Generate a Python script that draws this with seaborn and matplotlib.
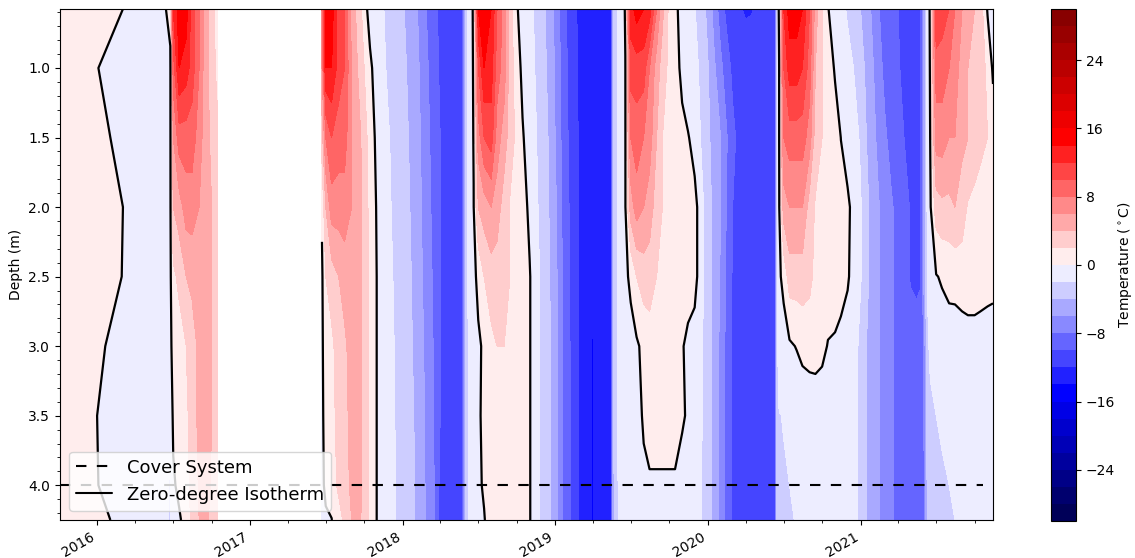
import numpy as np
import pandas as pd
import matplotlib
matplotlib.use("Agg")
import matplotlib.pyplot as plt
import matplotlib.dates as mdates
from matplotlib.lines import Line2D
from matplotlib.ticker import MultipleLocator
import seaborn as sns

# ---------------- data ----------------
depths = [0.576, 1.0, 1.5, 2.0, 2.5, 3.0, 3.5, 4.0, 4.25]

dates = [
    "2015-10-04", "2016-06-01", "2016-06-24", "2016-07-01", "2016-07-15", "2016-08-01",
    "2016-08-15", "2016-09-01", "2016-09-15", "2016-10-01", "2016-10-14", "2017-01-01",
    "2017-06-22", "2017-07-01", "2017-07-15", "2017-08-01", "2017-08-15", "2017-09-01",
    "2017-09-15", "2017-10-01", "2017-10-15", "2017-11-01", "2017-11-15", "2017-12-01",
    "2017-12-15", "2018-01-01", "2018-01-15", "2018-02-01", "2018-02-15", "2018-03-01",
    "2018-03-15", "2018-04-01", "2018-04-15", "2018-05-01", "2018-05-15", "2018-05-25",
    "2018-06-01", "2018-06-10", "2018-06-20", "2018-07-01", "2018-07-15", "2018-08-01",
    "2018-08-15", "2018-09-01", "2018-09-15", "2018-10-01", "2018-10-15", "2018-11-01",
    "2018-11-10", "2018-11-15", "2018-12-01", "2018-12-15", "2019-01-01", "2019-01-15",
    "2019-02-01", "2019-02-15", "2019-03-01", "2019-03-15", "2019-04-01", "2019-04-15",
    "2019-05-01", "2019-05-15", "2019-05-20", "2019-06-01", "2019-06-10", "2019-06-18",
    "2019-07-01", "2019-07-15", "2019-08-01", "2019-08-15", "2019-09-01", "2019-09-15",
    "2019-10-01", "2019-10-15", "2019-11-01", "2019-11-15", "2019-12-01", "2019-12-10",
    "2019-12-15", "2020-01-01", "2020-01-15", "2020-02-01", "2020-02-15", "2020-03-01",
    "2020-03-15", "2020-04-01", "2020-04-15", "2020-05-01", "2020-05-15", "2020-06-01",
    "2020-06-10", "2020-06-15", "2020-06-20", "2020-07-01", "2020-07-15", "2020-08-01",
    "2020-08-15", "2020-09-01", "2020-09-15", "2020-10-01", "2020-10-15", "2020-11-01",
    "2020-11-15", "2020-12-01", "2020-12-15", "2021-01-01", "2021-01-15", "2021-02-01",
    "2021-02-15", "2021-03-01", "2021-03-15", "2021-04-01", "2021-04-15", "2021-05-01",
    "2021-05-15", "2021-05-25", "2021-06-01", "2021-06-10", "2021-06-17", "2021-07-01",
    "2021-07-15", "2021-08-01", "2021-08-15", "2021-09-01", "2021-09-15", "2021-10-01",
    "2021-10-15", "2021-11-01", "2021-11-14",
]

nan = float("nan")
# temperature (deg C) for each date, one value per depth (top -> bottom)
temps = [
    [1.0, 0.37, 0.6, 1.0, 0.95, 0.49, 0.35, 0.37, 0.6],
    [-0.6, -0.6, -0.6, -0.6, -0.6, -0.6, -0.6, -0.6, -0.6],
    [0.5, -0.3, -0.3, -0.3, -0.3, -0.5, -1.5, -2.3, -2.3],
    [12, 9, 6, 4, 1.5, 0.8, 0.4, -0.3, -0.5],
    [15, 14, 9, 5, 2.5, 1, 0.8, 0.5, -0.3],
    [15, 13, 9, 7, 4, 2, 1.5, 1, 0.8],
    [11, 11, 9, 7, 4.5, 3, 3, 2.8, 2.5],
    [8, 8, 7, 6, 5, 4.5, 4.5, 4.2, 4],
    [5, 5, 5, 5, 5, 5, 5, 4.8, 4.5],
    [3, 3, 3.5, 4, 4, 4, 4, 3.8, 3.5],
    [1, 1.5, 2.5, 3, 3, 3, 3, 3, 3],
    [nan, nan, nan, nan, nan, nan, nan, nan, nan],
    [8, 6, 3, 0.3, -0.3, -0.3, -0.3, -0.3, -0.5],
    [15, 14, 8, 4, 2, 1, 0.6, 0.3, -0.2],
    [15, 14, 10, 7, 3, 1.5, 1, 0.8, -0.05],
    [11, 11, 9, 7, 4, 3, 3, 2.5, 1],
    [10, 10, 9, 7, 5, 3.5, 3.5, 3, 2.5],
    [5, 6, 6, 6, 5, 5, 4.5, 4.5, 4],
    [3.5, 4, 5, 5, 5, 5, 5, 4.8, 4.5],
    [1, 2, 3, 3.5, 3.5, 3.5, 3.5, 3.5, 3.5],
    [-1, 0.5, 1, 1.2, 1.5, 1.5, 1.5, 1.5, 1.5],
    [-1.5, -1.2, -0.5, -0.2, -0.1, -0.1, -0.1, -0.1, -0.1],
    [-1.9, -1.7, -1.2, -0.8, -0.7, -0.6, -0.6, -0.6, -0.6],
    [-2.6, -2.4, -2, -1.8, -1.5, -1.3, -1.2, -1.2, -1.2],
    [-3.2, -3, -2.8, -2.6, -2.4, -2.2, -2.1, -2, -2],
    [-3.8, -3.6, -3.4, -3.2, -3, -3, -3, -2.9, -2.9],
    [-4.5, -4.2, -4, -3.8, -3.6, -3.5, -3.4, -3.3, -3.3],
    [-5.5, -5.2, -5, -4.8, -4.6, -4.4, -4.2, -4.1, -4.1],
    [-7, -6.5, -6.2, -6, -5.8, -5.5, -5.3, -5.2, -5.2],
    [-8.2, -7.8, -7.5, -7.2, -7, -6.8, -6.6, -6.5, -6.5],
    [-9.2, -9, -8.7, -8.5, -8.2, -8, -7.8, -7.6, -7.6],
    [-10.5, -10.3, -10, -10, -10, -10, -10, -10.5, -10.5],
    [-11, -11, -10.8, -10.8, -10.8, -10.8, -10.8, -11, -11],
    [-11, -11, -11, -10.8, -10.8, -10.8, -10.8, -10.8, -10.8],
    [-11, -11, -10.8, -10.5, -10.5, -10.5, -10.5, -10.5, -10.5],
    [-10.5, -10.5, -10.5, -10.2, -10.2, -10.2, -10.2, -10.2, -10.2],
    [-3, -3, -3, -3, -3.2, -3.5, -3.5, -3.5, -3.5],
    [-1, -1, -1, -1, -1, -1.2, -1.5, -1.5, -1.5],
    [0.3, 0.2, 0.1, -0.05, -0.5, -0.8, -0.8, -0.8, -0.9],
    [14, 10, 7, 4, 0.5, -0.3, -0.2, -0.3, -0.5],
    [15, 14, 10, 5, 2, 0.3, 0.3, 0.2, -0.1],
    [14, 13, 11, 6, 3, 1.5, 1, 1, 0.8],
    [10, 9, 7, 5, 3, 2, 1.5, 1.2, 1],
    [7, 7, 5, 3, 3, 2, 1.5, 1.2, 1],
    [3, 3, 3, 1.8, 2, 1.5, 1.2, 1, 1],
    [0.2, 1, 1.5, 1.5, 1.2, 1, 0.8, 0.8, 0.8],
    [-0.8, -0.5, 0.2, 0.6, 0.7, 0.6, 0.5, 0.5, 0.5],
    [-1.5, -1.2, -1, -0.3, 0.1, 0.1, 0.1, 0.1, 0.1],
    [-2, -1.8, -1.5, -1, -0.5, -0.5, -0.5, -0.5, -0.5],
    [-2.3, -2.1, -1.8, -1.5, -1.2, -1.2, -1.2, -1.2, -1.3],
    [-3.5, -3.2, -3, -2.8, -2.5, -2.5, -2.5, -2.5, -2.5],
    [-4.5, -4.3, -4, -3.8, -3.6, -3.5, -3.5, -3.5, -3.5],
    [-6.5, -6.2, -6, -5.5, -5.2, -5, -5, -5, -5],
    [-8.5, -8.2, -8, -7.8, -7.6, -7.5, -7.5, -7.5, -7.5],
    [-10.5, -10.2, -10, -9.8, -9.6, -9.5, -9.5, -9.5, -9.5],
    [-11.5, -11.4, -11.2, -11, -11, -11, -11, -11, -11],
    [-12.5, -12.4, -12.3, -12.2, -12.2, -12.2, -12.2, -12.2, -12.2],
    [-13.2, -13.2, -13.1, -13, -13, -13, -13, -13, -13],
    [-13.5, -13.5, -13.5, -13.5, -13.5, -14.2, -14.2, -14.2, -14.2],
    [-13.3, -13.2, -13.2, -13, -13, -13, -13, -13, -13],
    [-13, -13, -13, -13, -13, -13, -13, -13, -13],
    [-12.5, -12.5, -12.5, -12.5, -12.5, -12.5, -12.5, -12.5, -12.5],
    [-4, -4, -4, -4, -4, -4, -4, -4.5, -4.5],
    [-1.8, -1.8, -1.8, -1.8, -1.8, -1.8, -1.8, -1.9, -1.9],
    [-1, -1, -1, -1, -1, -1, -1.2, -1.3, -1.3],
    [0.2, -0.05, -0.1, -0.1, -0.3, -0.6, -0.8, -1, -1],
    [13, 11, 8, 5, 0.3, -0.5, -0.6, -0.7, -0.8],
    [15, 11, 9, 7, 2, -0.3, -0.3, -0.5, -0.6],
    [14, 11, 8, 6, 3, 0.5, 0.1, -0.15, -0.5],
    [13, 8, 7, 5, 3, 1, 0.5, -0.15, -0.5],
    [8, 5, 4, 3, 2, 1, 0.5, -0.15, -0.5],
    [4.5, 3, 2, 2, 1.5, 1, 0.5, -0.15, -0.5],
    [1.5, 1.5, 1, 1, 1, 0.8, 0.5, -0.15, -0.5],
    [0.5, 0.8, 0.8, 0.8, 0.8, 0.5, 0.5, -0.15, -0.5],
    [-0.8, -0.5, 0.5, 0.7, 0.7, 0.1, 0.1, -0.3, -0.5],
    [-1.2, -1, 0.1, 0.6, 0.6, -0.3, -0.1, -0.4, -0.5],
    [-1.9, -1.5, -0.5, 0.4, 0.4, -0.5, -0.5, -0.5, -0.6],
    [-2.5, -2, -1, -0.2, -0.2, -0.8, -0.8, -0.8, -0.8],
    [-2.8, -2.3, -2, -1.2, -1.2, -1.6, -1.7, -1.8, -1.8],
    [-4.5, -3.8, -3.5, -3, -3, -3, -3, -3, -3],
    [-6.5, -5.5, -4.8, -4.5, -4.5, -4.5, -4.5, -4.5, -4.5],
    [-9, -7.5, -6, -6, -6.2, -6.5, -6.5, -6.5, -6.5],
    [-10.5, -9, -7.8, -8, -8.5, -8.5, -8.5, -8.5, -8.5],
    [-11.5, -10.5, -9.5, -10, -10.2, -10.2, -10.2, -10.2, -10.2],
    [-11.9, -11.2, -10.5, -10.8, -11, -11, -11, -11, -11],
    [-12.1, -11.5, -11, -11.2, -11.2, -11.2, -11.2, -11.2, -11.2],
    [-12.05, -11.6, -11.3, -11.3, -11.3, -11.3, -11.3, -11.3, -11.3],
    [-11.8, -11.5, -11.3, -11.3, -11.3, -11.3, -11.3, -11.3, -11.3],
    [-11.5, -11.3, -11.2, -11.2, -11.2, -11.2, -11.2, -11.2, -11.2],
    [-11, -11, -11, -11, -11, -11, -11, -11, -11],
    [-10.5, -10.5, -10.5, -10.5, -10.5, -10.5, -10.5, -10.5, -10.5],
    [-2.5, -2.5, -2.5, -2.5, -2.5, -2.5, -2.5, -2.8, -3],
    [0.5, -0.1, -0.1, -0.2, -0.3, -0.5, -2.1, -2.5, -2.6],
    [12, 10, 8, 5, 0.5, -0.8, -1.9, -2.2, -2.4],
    [15, 13, 9, 6, 3, -0.3, -1.8, -2.0, -2.2],
    [15, 13, 9, 6, 3, 0.1, -1.6, -1.8, -1.9],
    [14, 12, 9, 6, 3, 0.6, -1.5, -1.6, -1.7],
    [10, 9, 7, 3, 2.5, 0.9, -1.5, -1.5, -1.5],
    [5, 4, 3, 1.8, 1.5, 1, -1.5, -1.4, -1.4],
    [2, 2, 2, 1.3, 1, 0.5, -1.2, -1.2, -1.2],
    [0.1, 1, 1.2, 1.2, 1, -0.1, -1, -1, -1],
    [-1, -0.2, 0.8, 0.8, 0.8, -0.2, -0.8, -0.8, -0.8],
    [-1.5, -0.8, -0.02, 0.5, 0.4, -0.3, -0.6, -0.6, -0.6],
    [-2.2, -1.5, -0.5, 0.2, 0.1, -0.4, -0.5, -0.5, -0.5],
    [-3.2, -2, -1, -0.3, -0.3, -0.6, -0.7, -0.7, -0.7],
    [-4, -3, -2.3, -1.8, -1.8, -2.8, -2.8, -2.8, -2.8],
    [-5.2, -4.5, -4, -3.5, -3.5, -4, -4, -4, -4],
    [-6.5, -6, -5.5, -5, -5, -5, -5, -5, -5],
    [-8, -7.5, -6.8, -6, -6, -6, -6, -6, -6],
    [-9, -8.5, -7.8, -7, -7, -7, -7, -7, -7],
    [-9.5, -9.2, -8.5, -7.8, -7.8, -7.8, -7.8, -7.8, -7.8],
    [-10, -9.8, -9.2, -8.5, -8.5, -8.5, -8.5, -8.5, -8.5],
    [-10.8, -10.5, -10, -9.2, -9.2, -8.8, -8.8, -8.8, -8.8],
    [-11, -10.8, -10.5, -10.2, -10.2, -9, -9, -9, -9],
    [-10.5, -10.5, -10.5, -10.5, -10.5, -9, -9, -9, -9],
    [-10, -10, -10.2, -10.2, -10.2, -9, -9, -9, -9],
    [-6, -6, -6, -6, -6, -8, -8.5, -8.5, -8.5],
    [-1.5, -1.5, -1.5, -1.5, -1.8, -2.5, -3, -3.5, -3.5],
    [0.5, 0.3, 0.1, -0.2, -0.5, -1.5, -2.5, -3, -3.2],
    [12, 9, 7, 3, -0.1, -1.2, -2, -2.5, -2.8],
    [11, 9, 7, 3.5, 0.2, -1, -1.8, -2.2, -2.5],
    [10, 8, 6, 3.5, 0.5, -0.8, -1.5, -2, -2.3],
    [8, 7, 6, 4, 0.6, -0.9, -1.2, -1.8, -2.0],
    [6, 5, 4.5, 3, 1, -1, -1, -1.5, -1.8],
    [5, 4, 4, 1.8, 1, -0.8, -0.8, -1.2, -1.5],
    [4, 3.5, 3, 1.5, 1, -0.8, -0.8, -1, -1.3],
    [3, 3, 2.5, 1.2, 0.8, -0.8, -0.8, -0.9, -1.2],
    [-0.2, 1.5, 2, 1.2, 0.6, -0.8, -0.8, -0.8, -1],
    [-0.5, -0.3, 1, 1, 0.5, -0.8, -0.8, -0.8, -1],
]

cover_depth = [4.0, 4.0]
cover_dates = ["2015-10-04", "2021-10-20"]

levels = list(range(-30, 31, 2))
cbar_ticks = [-24, -16, -8, 0, 8, 16, 24]

# ---------------- style ----------------
sns.set_theme(style="ticks", rc={
    "axes.edgecolor": "black", "axes.linewidth": 0.8,
    "text.color": "black", "axes.labelcolor": "black",
    "xtick.color": "black", "ytick.color": "black",
    "xtick.major.size": 3.5, "ytick.major.size": 3.5,
    "xtick.minor.size": 2, "ytick.minor.size": 2,
    "xtick.major.width": 0.8, "ytick.major.width": 0.8,
    "xtick.minor.width": 0.6, "ytick.minor.width": 0.6,
    "font.size": 10, "axes.labelsize": 10,
    "xtick.labelsize": 10, "ytick.labelsize": 10,
})
plt.rcParams["font.family"] = ["DejaVu Sans"]

# ---------------- figure ----------------
fig = plt.figure(figsize=(11.35, 5.58), dpi=100)
ax = fig.add_axes([60 / 1135, 38 / 558, 933 / 1135, 511 / 558])
cax = fig.add_axes([1051 / 1135, 37 / 558, 25 / 1135, 512 / 558])

xnum = mdates.date2num(pd.to_datetime(dates))
Z = np.ma.masked_invalid(np.array(temps, dtype=float).T)
D = np.array(depths)

cf = ax.contourf(xnum, D, Z, levels=levels, cmap="seismic")
ax.contour(xnum, D, Z, levels=[0], colors="black", linewidths=1.6)

cx = mdates.date2num(pd.to_datetime(cover_dates))
sns.lineplot(x=cx, y=cover_depth, ax=ax, color="black", linewidth=1.5,
             linestyle=(0, (5, 5)))

ax.set_xlim(xnum[0], xnum[-1])
ax.set_ylim(4.25, depths[0])
ax.set_ylabel("Depth (m)")
ax.set_xlabel("")

ax.xaxis.set_major_locator(mdates.YearLocator())
ax.xaxis.set_major_formatter(mdates.DateFormatter("%Y"))
ax.xaxis.set_minor_locator(mdates.MonthLocator(bymonth=[4, 7, 10]))
ax.yaxis.set_major_locator(MultipleLocator(0.5))
ax.yaxis.set_minor_locator(MultipleLocator(0.1))
for lab in ax.get_xticklabels():
    lab.set_rotation(30)
    lab.set_ha("right")

handles = [
    Line2D([], [], color="black", lw=1.5, linestyle=(0, (5, 5)), label="Cover System"),
    Line2D([], [], color="black", lw=1.5, label="Zero-degree Isotherm"),
]
ax.legend(handles=handles, loc="lower left", fontsize=13, frameon=True,
          framealpha=0.8, edgecolor="0.8", fancybox=True)

cb = fig.colorbar(cf, cax=cax, ticks=cbar_ticks)
cb.set_label(r"Temperature ($^\circ$C)", labelpad=1)
cb.outline.set_linewidth(0.8)

fig.savefig("out.png", dpi=100)
